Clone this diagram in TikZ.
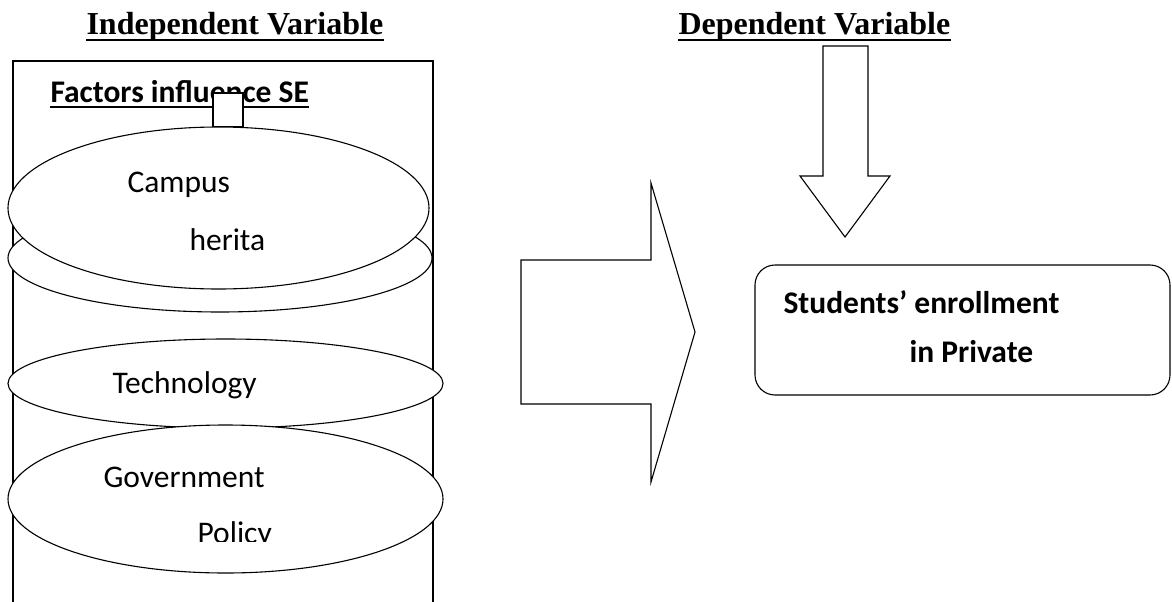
\documentclass[tikz,border=0pt]{standalone}
\usepackage{fontspec}
\setmainfont{Carlito}
\newfontfamily\headfont{Liberation Serif}
\usetikzlibrary{shapes.geometric,calc}

\begin{document}
\begin{tikzpicture}[
    x=1pt, y=-1pt,
    line width=1.1pt,
    heading/.style={font=\headfont\bfseries\fontsize{32}{38}\selectfont, inner sep=0pt, anchor=base west},
    txt/.style={font=\fontsize{31.5}{38}\selectfont, inner sep=0pt, anchor=base west},
    btxt/.style={font=\bfseries\fontsize{31.5}{38}\selectfont, inner sep=0pt, anchor=base west},
    factor/.style={draw, ellipse, fill=white, inner sep=0pt},
    blockarr/.style={draw, fill=white, line join=miter},
    uline/.style={line width=#1},
]
\useasboundingbox (0,0) rectangle (1172,602);

% ============ HEADINGS ============
\node[heading] (indep) at (86,35) {Independent Variable};
\node[heading] (dep) at (678,35) {Dependent Variable};
\draw[uline=2pt] ($(indep.base west)+(0,5)$) -- ($(indep.base east)+(0,5)$);
\draw[uline=2pt] ($(dep.base west)+(0,5)$) -- ($(dep.base east)+(0,5)$);

% ============ LEFT: FACTORS (INDEPENDENT) ============
\draw (13,602) -- (13,61) -- (433,61) -- (433,602);
\node[btxt] (factors) at (50,102) {Factors influence SE};
\draw[uline=1.6pt] ($(factors.base west)+(0,5)$) -- ($(factors.base east)+(0,5)$);
\node[draw, fill=white, minimum width=30, minimum height=34, inner sep=0pt] (stem) at (228,110) {};

% stacked factor ellipses
\node[factor, minimum width=424, minimum height=108] (blank) at (220,258) {};
\node[factor, minimum width=421, minimum height=162] (campus) at (218.5,208) {};
\node[factor, minimum width=435, minimum height=89] (tech) at (225.5,383.5) {};
\node[factor, minimum width=435, minimum height=148] (gov) at (225.5,499) {};

\node[txt] (campus1) at (127,192) {Campus};
\node[txt] (campus2) at (189,250) {herita};
\node[txt] (tech1) at (112,393) {Technology};
\node[txt] (gov1) at (103,487) {Government};
\begin{scope}
  \clip (150,500) rectangle (320,541);
  \node[txt] (gov2) at (197,543) {Policy};
\end{scope}

% ============ MIDDLE: BLOCK ARROW ============
\draw[blockarr] (521,260) -- (651,260) -- (651,183) -- (695,332)
    -- (651,482) -- (651,404) -- (521,404) -- cycle;

% ============ RIGHT: ENROLLMENT (DEPENDENT) ============
\draw[blockarr] (823,46) -- (868,46) -- (868,176) -- (890,176)
    -- (845,237) -- (800,176) -- (823,176) -- cycle;
\node[draw, rounded corners=20pt, minimum width=415, minimum height=130, inner sep=0pt] (enrol) at (962.5,330) {};
\node[btxt] (enrol1) at (783,313) {Students’ enrollment};
\node[btxt] (enrol2) at (909,362) {in Private};

\end{tikzpicture}
\end{document}
